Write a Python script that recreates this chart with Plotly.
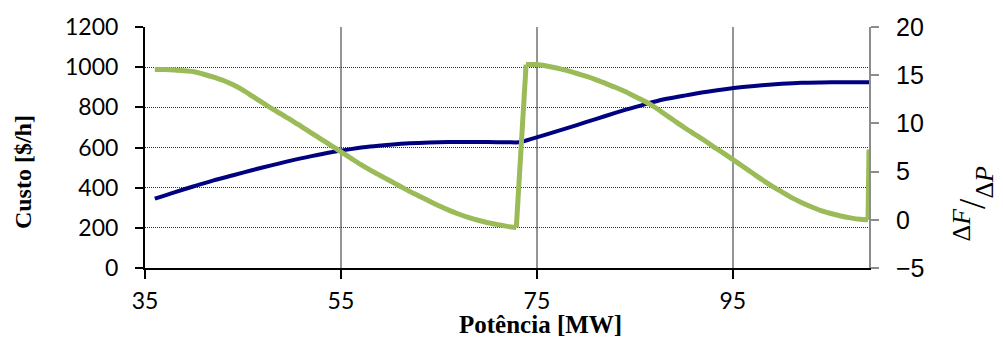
import plotly.graph_objects as go

# ---- data ----
x_cost = [36, 38, 40, 42, 44, 46, 48, 50, 52, 54, 56, 58, 60, 62, 64, 66, 68, 70, 72, 73.2,
          74, 76, 78, 80, 82, 84, 86, 88, 90, 92, 94, 96, 98, 100, 102, 104, 106, 108.9]
cost = [345, 377, 407, 436, 462, 488, 512, 536, 557, 576, 592, 605, 614, 621, 625, 627, 627,
        627, 626, 626, 636, 665, 695, 726, 757, 787, 815, 840, 858, 875, 889, 901, 910, 917,
        922, 924, 925, 925]

x_dfdp = [36, 37, 38, 39, 40, 41, 42, 43, 44, 45, 46, 47, 48, 49, 50, 51, 52, 53, 54, 55,
          56, 57, 58, 59, 60, 61, 62, 63, 64, 65, 66, 67, 68, 69, 70, 71, 72, 72.9,
          73.9, 75, 76, 77, 78, 79, 80, 81, 82, 83, 84, 85, 86, 87, 88, 89, 90, 91, 92, 93,
          94, 95, 96, 97, 98, 99, 100, 101, 102, 103, 104, 105, 106, 107, 108, 108.8, 108.9]
dfdp = [15.6, 15.6, 15.55, 15.45, 15.35, 15.1, 14.8, 14.45, 14.0, 13.45, 12.8, 12.15, 11.5,
        10.9, 10.3, 9.65, 9.0, 8.35, 7.7, 7.05, 6.4, 5.75, 5.15, 4.6, 4.05, 3.5, 2.95, 2.45,
        1.95, 1.45, 1.0, 0.6, 0.25, -0.05, -0.3, -0.5, -0.68, -0.8,
        16.1, 16.1, 15.95, 15.75, 15.5, 15.2, 14.9, 14.55, 14.15, 13.75, 13.3, 12.8, 12.3,
        11.7, 11.0, 10.3, 9.6, 8.95, 8.3, 7.6, 6.95, 6.25, 5.55, 4.85, 4.15, 3.5, 2.9, 2.3,
        1.8, 1.35, 0.95, 0.65, 0.4, 0.2, 0.05, 0.0, 7.3]

x_ticks = [35, 55, 75, 95]
x_range = [35, 108.9]
left_range = [0, 1200]
right_range = [-5, 20]

BLUE = "#000080"
GREEN = "#9BBB59"

fig = go.Figure()
fig.add_trace(go.Scatter(x=x_cost, y=cost, mode="lines",
                         line=dict(color=BLUE, width=4, shape="spline", smoothing=0.8),
                         xaxis="x", yaxis="y", showlegend=False))

# split the green series at its jumps: smooth pieces + straight jump segments
breaks = [0]
for i in range(1, len(dfdp)):
    if abs(dfdp[i] - dfdp[i - 1]) > 3:
        breaks.append(i)
breaks.append(len(dfdp))
for k in range(len(breaks) - 1):
    a, b = breaks[k], breaks[k + 1]
    fig.add_trace(go.Scatter(x=x_dfdp[a:b], y=dfdp[a:b], mode="lines",
                             line=dict(color=GREEN, width=5, shape="spline", smoothing=0.8),
                             xaxis="x", yaxis="y2", showlegend=False))
    if b < len(dfdp):
        fig.add_trace(go.Scatter(x=x_dfdp[b - 1:b + 1], y=dfdp[b - 1:b + 1], mode="lines",
                                 line=dict(color=GREEN, width=5),
                                 xaxis="x", yaxis="y2", showlegend=False))

tick_font_l = dict(family="Lato", size=23, color="black")
tick_font_r = dict(family="Liberation Sans", size=25, color="black")

fig.update_layout(
    width=1003, height=338,
    margin=dict(l=145, r=134, t=22, b=70),
    plot_bgcolor="white", paper_bgcolor="white",
    xaxis=dict(range=x_range, tickvals=x_ticks, showgrid=True, gridcolor="#959595",
               gridwidth=2, showline=True, linecolor="black", linewidth=2,
               ticks="outside", ticklen=9, tickwidth=2, tickcolor="black",
               tickfont=tick_font_l, zeroline=False, ticklabelstandoff=2),
    xaxis2=dict(range=x_range, tickvals=x_ticks, overlaying="x", ticks="inside",
                ticklen=6, tickwidth=2, tickcolor="black", showticklabels=False,
                showgrid=False, zeroline=False, showline=False),
    yaxis=dict(range=left_range, dtick=200, showgrid=True, gridcolor="#333333",
               gridwidth=1, griddash="1px,1px", showline=True, linecolor="black",
               linewidth=2, ticks="outside", ticklen=8, tickwidth=2, tickcolor="black",
               tickfont=tick_font_l, zeroline=False, ticklabelstandoff=12),
    yaxis3=dict(range=left_range, dtick=200, overlaying="y", side="left", ticks="inside",
                ticklen=5, tickwidth=2, tickcolor="black", showticklabels=False,
                showgrid=False, zeroline=False, showline=False),
    yaxis2=dict(range=right_range, dtick=5, overlaying="y", side="right", showgrid=False,
                showline=True, linecolor="#8c8c8c", linewidth=2, ticks="outside",
                ticklen=8, tickwidth=2, tickcolor="#8c8c8c", tickfont=tick_font_r,
                zeroline=False, ticklabelstandoff=12),
    annotations=[
        dict(text="<b>Custo [$/h]</b>", xref="paper", yref="paper",
             x=-0.1685, y=0.398, xanchor="center", yanchor="middle", textangle=-90,
             showarrow=False, font=dict(family="Liberation Serif", size=24, color="black")),
        dict(text="<b>Potência [MW]</b>", xref="paper", yref="paper",
             x=0.5456, y=-0.233, xanchor="center", yanchor="middle",
             showarrow=False, font=dict(family="Liberation Serif", size=25, color="black")),
        dict(text="<sup>Δ<i>F</i></sup>/<sub>Δ<i>P</i></sub>", xref="paper", yref="paper",
             x=1.1436, y=0.268, xanchor="center", yanchor="middle", textangle=-90,
             showarrow=False, font=dict(family="Liberation Serif", size=37, color="black")),
    ],
)

fig.write_html("out.html")
